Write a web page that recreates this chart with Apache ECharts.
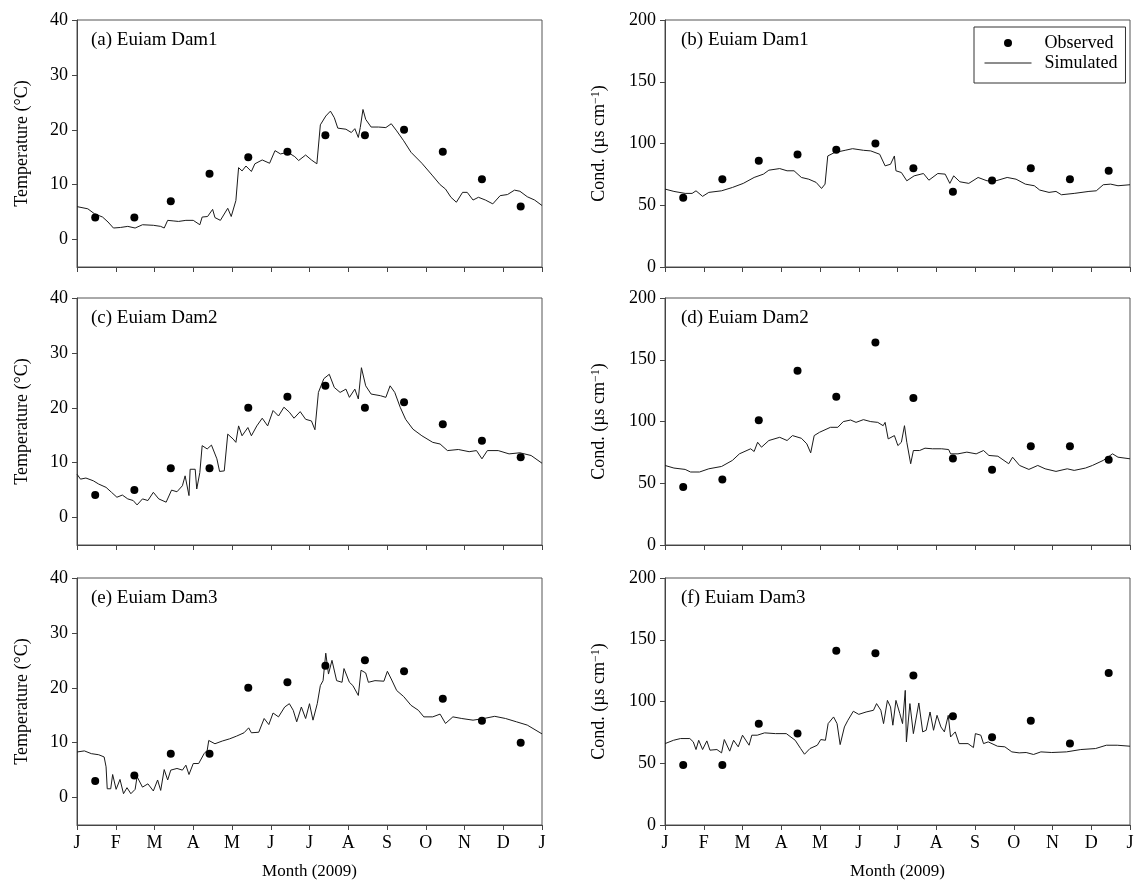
<!DOCTYPE html>
<html>
<head>
<meta charset="utf-8">
<script src="https://cdn.jsdelivr.net/npm/echarts@6/dist/echarts.min.js"></script>
<style>html,body{margin:0;padding:0;background:#fff;}#chart{width:1135px;height:892px;}</style>
</head>
<body>
<div id="chart"></div>
<script>
// ---------- DATA ----------
const monthLabels = ['J','F','M','A','M','J','J','A','S','O','N','D','J'];
const tempTicks = [0, 10, 20, 30, 40];
const condTicks = [0, 50, 100, 150, 200];
const panelTitles = ['(a) Euiam Dam1','(b) Euiam Dam1','(c) Euiam Dam2','(d) Euiam Dam2','(e) Euiam Dam3','(f) Euiam Dam3'];

// observation dates (in months from 1 Jan 2009)
const obsMonth = [0.47, 1.48, 2.42, 3.42, 4.42, 5.43, 6.41, 7.43, 8.44, 9.44, 10.45, 11.45];
const obsTemp1 = [4, 4, 7, 12, 15, 16, 19, 19, 20, 16, 11, 6];
const obsCond1 = [56, 71, 86, 91, 95, 100, 80, 61, 70, 80, 71, 78];
const obsTemp2 = [4.1, 5, 9, 9, 20, 22, 24, 20, 21, 17, 14, 11];
const obsCond2 = [47, 53, 101, 141, 120, 164, 119, 70, 61, 80, 80, 69];
const obsTemp3 = [3, 4, 8, 8, 20, 21, 24, 25, 23, 18, 14, 10];
const obsCond3 = [48.5, 48.5, 82, 74, 141, 139, 121, 88, 71, 84.5, 66, 123];

// simulated series [month, value]
const simTemp1 = [[0,6.0],[0.28,5.6],[0.45,4.7],[0.66,4.1],[0.80,3.2],[0.94,2.1],[1.12,2.2],[1.31,2.4],[1.50,2.1],[1.69,2.7],[1.97,2.6],[2.16,2.4],[2.25,2.1],[2.34,3.5],[2.48,3.4],[2.62,3.3],[2.81,3.5],[3.00,3.5],[3.17,2.7],[3.23,4.1],[3.37,4.2],[3.50,5.5],[3.56,4.0],[3.70,3.5],[3.89,5.7],[3.98,4.2],[4.10,7.1],[4.17,13.1],[4.26,12.5],[4.36,13.4],[4.50,12.4],[4.59,13.8],[4.78,14.5],[4.97,13.9],[5.11,16.2],[5.25,15.6],[5.44,15.9],[5.62,15.1],[5.72,14.4],[5.90,15.4],[6.05,14.5],[6.19,13.8],[6.28,20.9],[6.42,22.5],[6.54,23.4],[6.64,22.2],[6.73,20.3],[6.94,20.1],[7.08,19.5],[7.17,20.2],[7.26,18.6],[7.31,20.4],[7.38,23.7],[7.45,21.9],[7.59,20.5],[7.78,20.5],[7.97,20.4],[8.11,21.1],[8.25,19.8],[8.43,18.0],[8.62,15.9],[8.90,13.9],[9.18,11.6],[9.37,10.0],[9.51,9.2],[9.65,7.7],[9.79,6.8],[9.95,8.6],[10.07,8.6],[10.22,7.2],[10.36,7.7],[10.54,7.2],[10.73,6.5],[10.92,8.0],[11.11,8.2],[11.29,9.0],[11.43,8.8],[11.62,7.8],[11.81,7.2],[12.00,6.2]];
const simCond1 = [[0,63.1],[0.23,61.2],[0.52,59.6],[0.70,59.6],[0.80,61.7],[0.97,57.2],[1.13,60.4],[1.46,61.7],[1.74,64.4],[2.02,67.7],[2.30,72.5],[2.54,75.2],[2.68,78.4],[2.96,79.7],[3.15,77.9],[3.33,77.9],[3.52,72.5],[3.71,71.1],[3.90,68.5],[4.04,63.6],[4.13,67.1],[4.20,89.9],[4.37,92.6],[4.65,94.5],[4.84,95.8],[5.12,94.5],[5.31,94.0],[5.54,91.3],[5.59,91.8],[5.68,81.9],[5.82,83.2],[5.92,89.9],[5.96,77.9],[6.10,76.5],[6.24,69.8],[6.43,73.8],[6.67,75.7],[6.81,70.3],[7.04,75.7],[7.23,75.2],[7.35,67.7],[7.45,73.8],[7.61,69.0],[7.84,67.7],[8.08,72.5],[8.31,69.8],[8.54,69.8],[8.83,72.5],[9.06,71.1],[9.30,67.1],[9.53,65.8],[9.67,62.3],[9.91,60.4],[10.09,61.2],[10.23,58.5],[10.56,59.6],[10.94,61.2],[11.13,61.7],[11.31,66.6],[11.50,67.1],[11.69,65.8],[12.0,66.6]];
const simTemp2 = [[0,7.9],[0.09,7.0],[0.23,7.2],[0.42,6.7],[0.56,6.1],[0.75,5.5],[0.89,4.6],[1.03,3.7],[1.17,4.1],[1.31,3.4],[1.45,3.1],[1.55,2.3],[1.69,3.4],[1.83,3.1],[1.97,4.6],[2.11,3.4],[2.30,2.8],[2.44,5.0],[2.58,4.7],[2.72,5.8],[2.79,7.6],[2.89,4.0],[2.92,8.8],[3.05,8.8],[3.09,5.2],[3.17,8.2],[3.23,13.1],[3.36,12.5],[3.47,13.2],[3.61,10.7],[3.68,8.4],[3.80,8.5],[3.89,15.2],[4.03,14.3],[4.10,13.7],[4.17,16.7],[4.26,14.9],[4.41,16.4],[4.50,14.9],[4.64,16.7],[4.78,18.1],[4.92,16.7],[5.06,19.5],[5.20,18.5],[5.34,20.1],[5.48,19.2],[5.60,18.1],[5.76,19.3],[5.90,17.9],[6.05,17.6],[6.14,16.0],[6.23,22.8],[6.37,25.3],[6.51,26.1],[6.64,23.7],[6.79,22.8],[6.94,23.4],[7.03,21.9],[7.17,23.4],[7.26,21.6],[7.34,27.3],[7.45,24.0],[7.59,22.5],[7.83,22.2],[7.97,21.9],[8.08,24.0],[8.20,22.8],[8.34,20.1],[8.48,17.9],[8.67,16.1],[8.90,14.9],[9.18,13.7],[9.37,13.4],[9.56,12.2],[9.84,12.4],[10.12,12.0],[10.31,12.2],[10.45,10.7],[10.59,12.2],[10.87,12.2],[11.15,11.6],[11.43,11.8],[11.72,11.3],[12.0,9.9]];
const simCond2 = [[0,64.4],[0.23,62.3],[0.52,61.2],[0.66,59.1],[0.89,59.1],[1.13,61.7],[1.46,63.6],[1.74,68.5],[1.92,73.8],[2.21,77.9],[2.30,75.7],[2.39,83.2],[2.49,79.2],[2.68,84.6],[2.96,87.2],[3.15,84.6],[3.29,88.6],[3.52,86.4],[3.66,81.9],[3.76,74.6],[3.85,88.6],[3.99,91.3],[4.27,95.3],[4.46,95.3],[4.60,99.9],[4.79,101.2],[4.93,99.3],[5.12,101.5],[5.31,99.9],[5.49,99.3],[5.63,96.6],[5.68,99.3],[5.76,85.9],[5.92,88.6],[6.01,80.5],[6.10,83.2],[6.18,96.6],[6.24,83.2],[6.34,65.8],[6.41,76.5],[6.57,76.5],[6.71,78.4],[6.90,77.9],[7.14,77.9],[7.32,77.3],[7.37,73.8],[7.56,73.8],[7.79,75.2],[8.03,73.8],[8.22,76.5],[8.36,72.5],[8.59,71.9],[8.87,65.8],[8.97,71.1],[9.15,64.4],[9.39,61.2],[9.62,64.4],[9.81,61.7],[10.09,59.6],[10.38,61.7],[10.56,60.4],[10.85,62.3],[11.03,64.4],[11.31,68.5],[11.55,73.8],[11.69,71.1],[12.0,69.8]];
const simTemp3 = [[0,8.3],[0.19,8.5],[0.37,8.0],[0.56,7.8],[0.70,7.4],[0.75,5.6],[0.78,1.6],[0.87,1.6],[0.92,4.2],[1.01,1.5],[1.11,3.3],[1.20,0.7],[1.29,1.8],[1.39,0.7],[1.50,1.5],[1.55,3.8],[1.69,1.9],[1.83,2.5],[1.97,1.2],[2.08,3.2],[2.16,1.3],[2.25,5.1],[2.34,3.2],[2.42,5.0],[2.58,5.3],[2.72,5.0],[2.81,5.9],[2.89,4.2],[3.00,6.2],[3.14,6.2],[3.28,8.0],[3.36,8.6],[3.40,10.4],[3.56,9.8],[3.75,10.3],[3.94,10.7],[4.12,11.2],[4.31,11.8],[4.43,12.7],[4.50,11.8],[4.69,11.9],[4.83,14.4],[4.95,13.3],[5.06,15.4],[5.20,14.7],[5.36,16.5],[5.48,17.1],[5.58,15.9],[5.67,13.8],[5.79,16.5],[5.90,14.4],[6.00,17.1],[6.09,14.1],[6.20,17.1],[6.28,20.4],[6.35,21.3],[6.42,26.3],[6.49,22.5],[6.58,25.0],[6.70,21.3],[6.84,21.0],[6.89,23.5],[7.03,21.0],[7.12,20.4],[7.26,18.6],[7.33,23.2],[7.45,22.7],[7.52,21.0],[7.69,21.3],[7.92,21.2],[8.01,23.0],[8.11,21.6],[8.25,19.5],[8.43,18.4],[8.62,16.8],[8.81,15.9],[8.95,14.7],[9.18,14.7],[9.37,15.2],[9.51,13.5],[9.70,14.7],[9.93,14.4],[10.22,14.1],[10.50,14.4],[10.78,14.8],[11.06,14.4],[11.34,13.8],[11.62,13.2],[12.0,11.6]];
const simCond3 = [[0,65.9],[0.22,68.6],[0.40,70.0],[0.64,70.0],[0.73,67.3],[0.80,61.1],[0.87,68.6],[0.97,61.1],[1.08,68.1],[1.16,60.6],[1.34,61.1],[1.46,58.4],[1.53,69.2],[1.67,59.8],[1.77,68.6],[1.89,63.3],[2.00,72.7],[2.17,64.6],[2.24,72.7],[2.38,72.7],[2.57,74.6],[2.85,74.0],[3.13,74.0],[3.36,68.6],[3.50,61.9],[3.60,57.3],[3.74,61.9],[3.93,64.6],[4.02,69.2],[4.14,68.6],[4.21,82.1],[4.35,87.5],[4.44,82.1],[4.52,65.1],[4.63,79.4],[4.72,84.8],[4.86,92.1],[5.00,89.6],[5.19,91.5],[5.38,92.9],[5.46,98.3],[5.57,92.9],[5.64,82.1],[5.74,100.9],[5.82,95.6],[5.88,80.8],[5.96,100.9],[6.06,90.2],[6.13,82.1],[6.20,109.0],[6.23,67.3],[6.32,98.3],[6.41,74.0],[6.55,98.8],[6.65,75.4],[6.74,76.7],[6.84,91.5],[6.93,76.7],[7.02,88.8],[7.12,79.4],[7.21,75.4],[7.31,88.8],[7.37,71.3],[7.49,75.4],[7.59,65.9],[7.82,65.9],[7.96,62.7],[8.01,74.0],[8.15,72.7],[8.22,65.9],[8.34,67.3],[8.58,63.8],[8.77,63.3],[8.95,59.2],[9.14,58.4],[9.32,58.7],[9.51,57.1],[9.70,59.2],[9.98,58.7],[10.36,59.2],[10.73,61.1],[11.11,61.9],[11.39,64.6],[11.67,64.6],[12.0,63.8]];

const obsSets = [obsTemp1, obsCond1, obsTemp2, obsCond2, obsTemp3, obsCond3];
const simSets = [simTemp1, simCond1, simTemp2, simCond2, simTemp3, simCond3];

// ---------- LAYOUT / STYLE ----------
const FONT = "'Liberation Serif','Times New Roman',serif";
const colLeft = [77, 665];
const rowTop = [20, 298, 578];
const PW = 465, PH = 247;
const AX = '#444';

const grids = [], xAxes = [], yAxes = [], series = [], titles = [];
for (let i = 0; i < 6; i++) {
  const r = Math.floor(i / 2), c = i % 2;
  grids.push({left: colLeft[c], top: rowTop[r], width: PW, height: PH,
    show: true, borderColor: '#555', borderWidth: 1, backgroundColor: 'transparent',
    containLabel: false, outerBoundsMode: 'none'});
  xAxes.push({
    gridIndex: i, type: 'value', min: 0, max: 12, interval: 1,
    axisLine: {show: true, onZero: false, lineStyle: {color: AX, width: 1}},
    axisTick: {show: true, inside: false, length: 5, lineStyle: {color: AX, width: 1}},
    axisLabel: {show: r === 2, margin: 9, color: '#000', fontSize: 18, fontFamily: FONT,
      showMinLabel: true, showMaxLabel: true,
      formatter: v => monthLabels[Math.round(v)] || ''},
    splitLine: {show: false},
    name: r === 2 ? 'Month (2009)' : '', nameLocation: 'middle', nameGap: 38,
    nameTextStyle: {color: '#000', fontSize: 17, fontFamily: FONT}
  });
  const isT = c === 0;
  yAxes.push({
    gridIndex: i, type: 'value', min: isT ? -5 : 0, max: isT ? 40 : 200,
    axisLine: {show: true, onZero: false, lineStyle: {color: AX, width: 1}},
    axisTick: {show: true, length: 5, lineStyle: {color: AX, width: 1}, customValues: isT ? tempTicks : condTicks},
    axisLabel: {margin: 9, color: '#000', fontSize: 18, fontFamily: FONT, customValues: isT ? tempTicks : condTicks},
    splitLine: {show: false},
    name: isT ? 'Temperature (°C)' : 'Cond. (µs cm{sup|−1})',
    nameLocation: 'middle', nameRotate: 90, nameGap: isT ? 46 : 57,
    nameTextStyle: {color: '#000', fontSize: 18, fontFamily: FONT,
      rich: {sup: {fontSize: 12, fontFamily: FONT, color: '#000', verticalAlign: 'top', lineHeight: 18}}}
  });
  series.push({
    name: 'Simulated', type: 'line', xAxisIndex: i, yAxisIndex: i,
    data: simSets[i], symbol: 'none', showSymbol: false, smooth: false,
    lineStyle: {color: '#1a1a1a', width: 1}, itemStyle: {color: '#1a1a1a'}, z: 2, silent: true
  });
  series.push({
    name: 'Observed', type: 'scatter', xAxisIndex: i, yAxisIndex: i,
    data: obsMonth.map((m, k) => [m, obsSets[i][k]]),
    symbol: 'circle', symbolSize: 8, itemStyle: {color: '#000', opacity: 1}, z: 3, silent: true
  });
  titles.push({
    text: panelTitles[i], left: c === 0 ? 91 : 681, top: rowTop[r] + 11,
    padding: 0, textStyle: {color: '#000', fontSize: 19, fontWeight: 'normal', fontFamily: FONT}
  });
}

const chart = echarts.init(document.getElementById('chart'), null, {renderer: 'canvas'});
chart.setOption({
  animation: false,
  backgroundColor: '#fff',
  title: titles,
  legend: {
    data: [
      {name: 'Observed', icon: 'circle', itemStyle: {color: '#000', opacity: 1}},
      {name: 'Simulated', itemStyle: {opacity: 0, color: 'transparent', borderWidth: 0}, lineStyle: {color: '#1a1a1a', width: 1}}
    ],
    orient: 'vertical', left: 974, top: 27,
    padding: [6, 8, 10, 10], itemGap: 0, itemWidth: 47, itemHeight: 8,
    borderColor: '#333', borderWidth: 1, borderRadius: 0, selectedMode: false,
    textStyle: {color: '#000', fontSize: 18, fontFamily: FONT, lineHeight: 20, padding: [0, 0, 0, 8]}
  },
  grid: grids, xAxis: xAxes, yAxis: yAxes, series: series
});
</script>
</body>
</html>
